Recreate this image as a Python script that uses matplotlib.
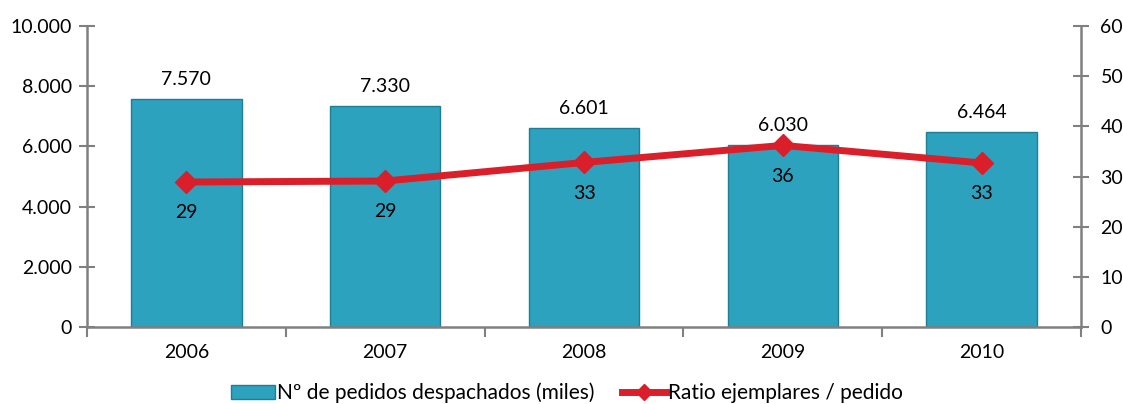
import matplotlib
matplotlib.use("Agg")
import matplotlib.pyplot as plt
from matplotlib.ticker import FuncFormatter, FixedLocator

plt.rcParams['font.family'] = ['Lato', 'DejaVu Sans']

years = ["2006", "2007", "2008", "2009", "2010"]
pedidos = [7570, 7330, 6601, 6030, 6464]
ratio = [28.9, 29.1, 32.8, 36.2, 32.7]
left_ticks = [0, 2000, 4000, 6000, 8000, 10000]
right_ticks = [0, 10, 20, 30, 40, 50, 60]

bar_color = "#2CA2BF"
bar_edge = "#1E7E95"
line_color = "#DA1F2B"
axis_color = "#808080"
fs = 14

def miles(v):
    return f"{int(round(v)):,}".replace(",", ".")

fig = plt.figure(figsize=(11.23, 4.04), dpi=100)
ax = fig.add_axes([87/1123, 1-327/404, (1081-87)/1123, (327-26)/404])
ax2 = ax.twinx()

x = list(range(len(years)))
bars = ax.bar(x, pedidos, width=0.555, color=bar_color, edgecolor=bar_edge, linewidth=1,
              label="Nº de pedidos despachados (miles)", zorder=2)
ax.set_xlim(-0.5, len(years) - 0.5)
ax.set_ylim(0, 10000)
ax.yaxis.set_major_locator(FixedLocator(left_ticks))
ax.yaxis.set_major_formatter(FuncFormatter(lambda v, p: miles(v)))
for xi, v in zip(x, pedidos):
    ax.annotate(miles(v), (xi, v), xytext=(0, 8), textcoords="offset points",
                ha="center", va="bottom", fontsize=fs)

ln, = ax2.plot(x, ratio, color=line_color, linewidth=5, marker="D", markersize=11,
               label="Ratio ejemplares / pedido", zorder=3)
ax2.set_ylim(0, 60)
ax2.yaxis.set_major_locator(FixedLocator(right_ticks))
for xi, v in zip(x, ratio):
    ax2.annotate(f"{v:.0f}", (xi, v), xytext=(0, -16), textcoords="offset points",
                 ha="center", va="top", fontsize=fs)

# x ticks: category labels at centers, tick marks at boundaries
ax.set_xticks(x)
ax.set_xticklabels(years, fontsize=fs)
ax.tick_params(axis="x", which="major", length=0, pad=12)
ax.set_xticks([i - 0.5 for i in range(len(years) + 1)], minor=True)
ax.tick_params(axis="x", which="minor", length=7, direction="out", color=axis_color, width=1.5)

for a in (ax, ax2):
    for s in a.spines.values():
        s.set_visible(False)
ax.spines["left"].set_visible(True)
ax.spines["bottom"].set_visible(True)
ax2.spines["right"].set_visible(True)
for s in (ax.spines["left"], ax.spines["bottom"], ax2.spines["right"]):
    s.set_color(axis_color)
    s.set_linewidth(1.8)

ax.tick_params(axis="y", direction="inout", length=12, width=1.5, color=axis_color,
               labelsize=fs, pad=5)
ax2.tick_params(axis="y", direction="inout", length=12, width=1.5, color=axis_color,
                labelsize=fs, pad=8)

ax.set_zorder(1)
ax2.set_zorder(2)
ax.patch.set_visible(False)
ax2.patch.set_visible(False)

fig.legend([bars, ln], [bars.get_label(), ln.get_label()], loc="center",
           bbox_to_anchor=(0.505, 1 - 393/404), ncol=2, frameon=False, fontsize=15,
           handlelength=2.1, columnspacing=1.3, handletextpad=0.12, borderpad=0,
           markerscale=0.7)

fig.savefig("out.png", dpi=100)
